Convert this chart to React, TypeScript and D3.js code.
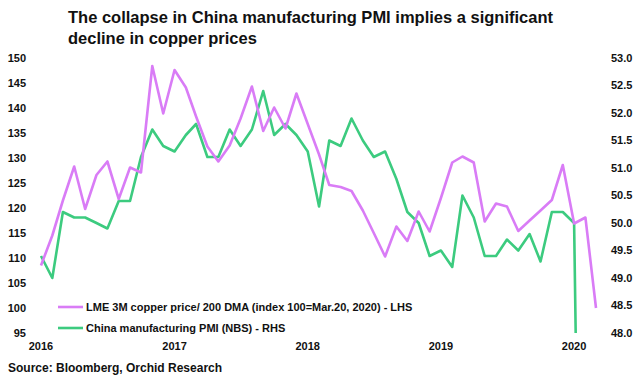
import React from "react";
import * as d3 from "d3";

const startMonth = "2016-01-01";
const copperIndex = [
  108.5, 114.5, 121.5, 128.3, 119.8, 126.6, 129.3, 121.8, 128.1, 127.1, 148.4, 138.9,
  147.6, 144.1, 138.3, 132.3, 129.3, 132.5, 137.9, 144.3, 135.4, 140.1, 135.9, 142.9,
  136.8, 130.7, 124.6, 124.2, 123.4, 119.5, 115.0, 110.3, 116.3, 113.4, 119.3, 115.3,
  122.0, 129.1, 130.3, 129.1, 117.3, 120.9, 120.3, 115.4, 117.5, 119.5, 121.6, 128.6,
  116.9, 118.1, 100.0,
];
const chinaPMI = [
  49.4, 49.0, 50.2, 50.1, 50.1, 50.0, 49.9, 50.4, 50.4, 51.2, 51.7, 51.4,
  51.3, 51.6, 51.8, 51.2, 51.2, 51.7, 51.4, 51.7, 52.4, 51.6, 51.8, 51.6,
  51.3, 50.3, 51.5, 51.4, 51.9, 51.5, 51.2, 51.3, 50.8, 50.2, 50.0, 49.4,
  49.5, 49.2, 50.5, 50.1, 49.4, 49.4, 49.7, 49.5, 49.8, 49.3, 50.2, 50.2,
  50.0, 35.7,
];
const leftTicks = [95, 100, 105, 110, 115, 120, 125, 130, 135, 140, 145, 150];
const rightTicks = [48.0, 48.5, 49.0, 49.5, 50.0, 50.5, 51.0, 51.5, 52.0, 52.5, 53.0];
const yearTicks = ["2016", "2017", "2018", "2019", "2020"];
const titleLines = [
  "The collapse in China manufacturing PMI implies a significant",
  "decline in copper prices",
];
const legendLabels = [
  "LME 3M copper price/ 200 DMA (index 100=Mar.20, 2020) - LHS",
  "China manufacturing PMI (NBS) - RHS",
];
const sourceText = "Source: Bloomberg, Orchid Research";

const PURPLE = "#D97CF6";
const GREEN = "#3CCB7F";
const FONT = "'Liberation Sans', Arial, sans-serif";

export default function App() {
  const W = 640, H = 375;
  const top = 58, bottom = 333;
  const start = new Date(startMonth + "T00:00:00");
  const months = copperIndex.map((_, i) => d3.timeMonth.offset(start, i));
  const x = d3.scaleTime().domain([start, months[months.length - 1]]).range([41, 596]);
  const yL = d3.scaleLinear().domain([95, 150]).range([bottom, top]);
  const yR = d3.scaleLinear().domain([48, 53]).range([bottom, top]);

  const copperLine = d3.line<number>()
    .x((_, i) => x(months[i]))
    .y((d) => yL(d))(copperIndex) || "";
  const pmiLine = d3.line<number>()
    .x((_, i) => x(months[i]))
    .y((d) => yR(d))(chinaPMI) || "";

  return (
    <div style={{ position: "absolute", left: 0, top: 0 }}>
      <svg width={W} height={H} style={{ display: "block", background: "#fff" }}>
        <defs>
          <clipPath id="plotClip">
            <rect x={0} y={top - 10} width={W} height={bottom - top + 10} />
          </clipPath>
        </defs>
        <g fontFamily={FONT} fontWeight="bold" fill="#111">
          {titleLines.map((t, i) => (
            <text key={i} x={68} y={23 + i * 21} fontSize={16.5}>{t}</text>
          ))}
          {leftTicks.map((v) => (
            <text key={v} x={26} y={yL(v)} dy="0.35em" textAnchor="end" fontSize={11}>{v}</text>
          ))}
          {rightTicks.map((v) => (
            <text key={v} x={611} y={yR(v)} dy="0.35em" textAnchor="start" fontSize={11}>{v.toFixed(1)}</text>
          ))}
          {yearTicks.map((yv) => (
            <text key={yv} x={x(new Date(yv + "-01-01T00:00:00"))} y={350} textAnchor="middle" fontSize={11}>{yv}</text>
          ))}
          <text x={8} y={372} fontSize={12}>{sourceText}</text>
        </g>
        <g clipPath="url(#plotClip)" fill="none" strokeWidth={2.6} strokeLinejoin="round">
          <path d={pmiLine} stroke={GREEN} />
          <path d={copperLine} stroke={PURPLE} />
        </g>
        <g fontFamily={FONT} fontWeight="bold" fontSize={11} fill="#111">
          <line x1={58} x2={83} y1={307} y2={307} stroke={PURPLE} strokeWidth={2.6} />
          <text x={86} y={307} dy="0.35em">{legendLabels[0]}</text>
          <line x1={58} x2={83} y1={328} y2={328} stroke={GREEN} strokeWidth={2.6} />
          <text x={86} y={328} dy="0.35em">{legendLabels[1]}</text>
        </g>
      </svg>
    </div>
  );
}
